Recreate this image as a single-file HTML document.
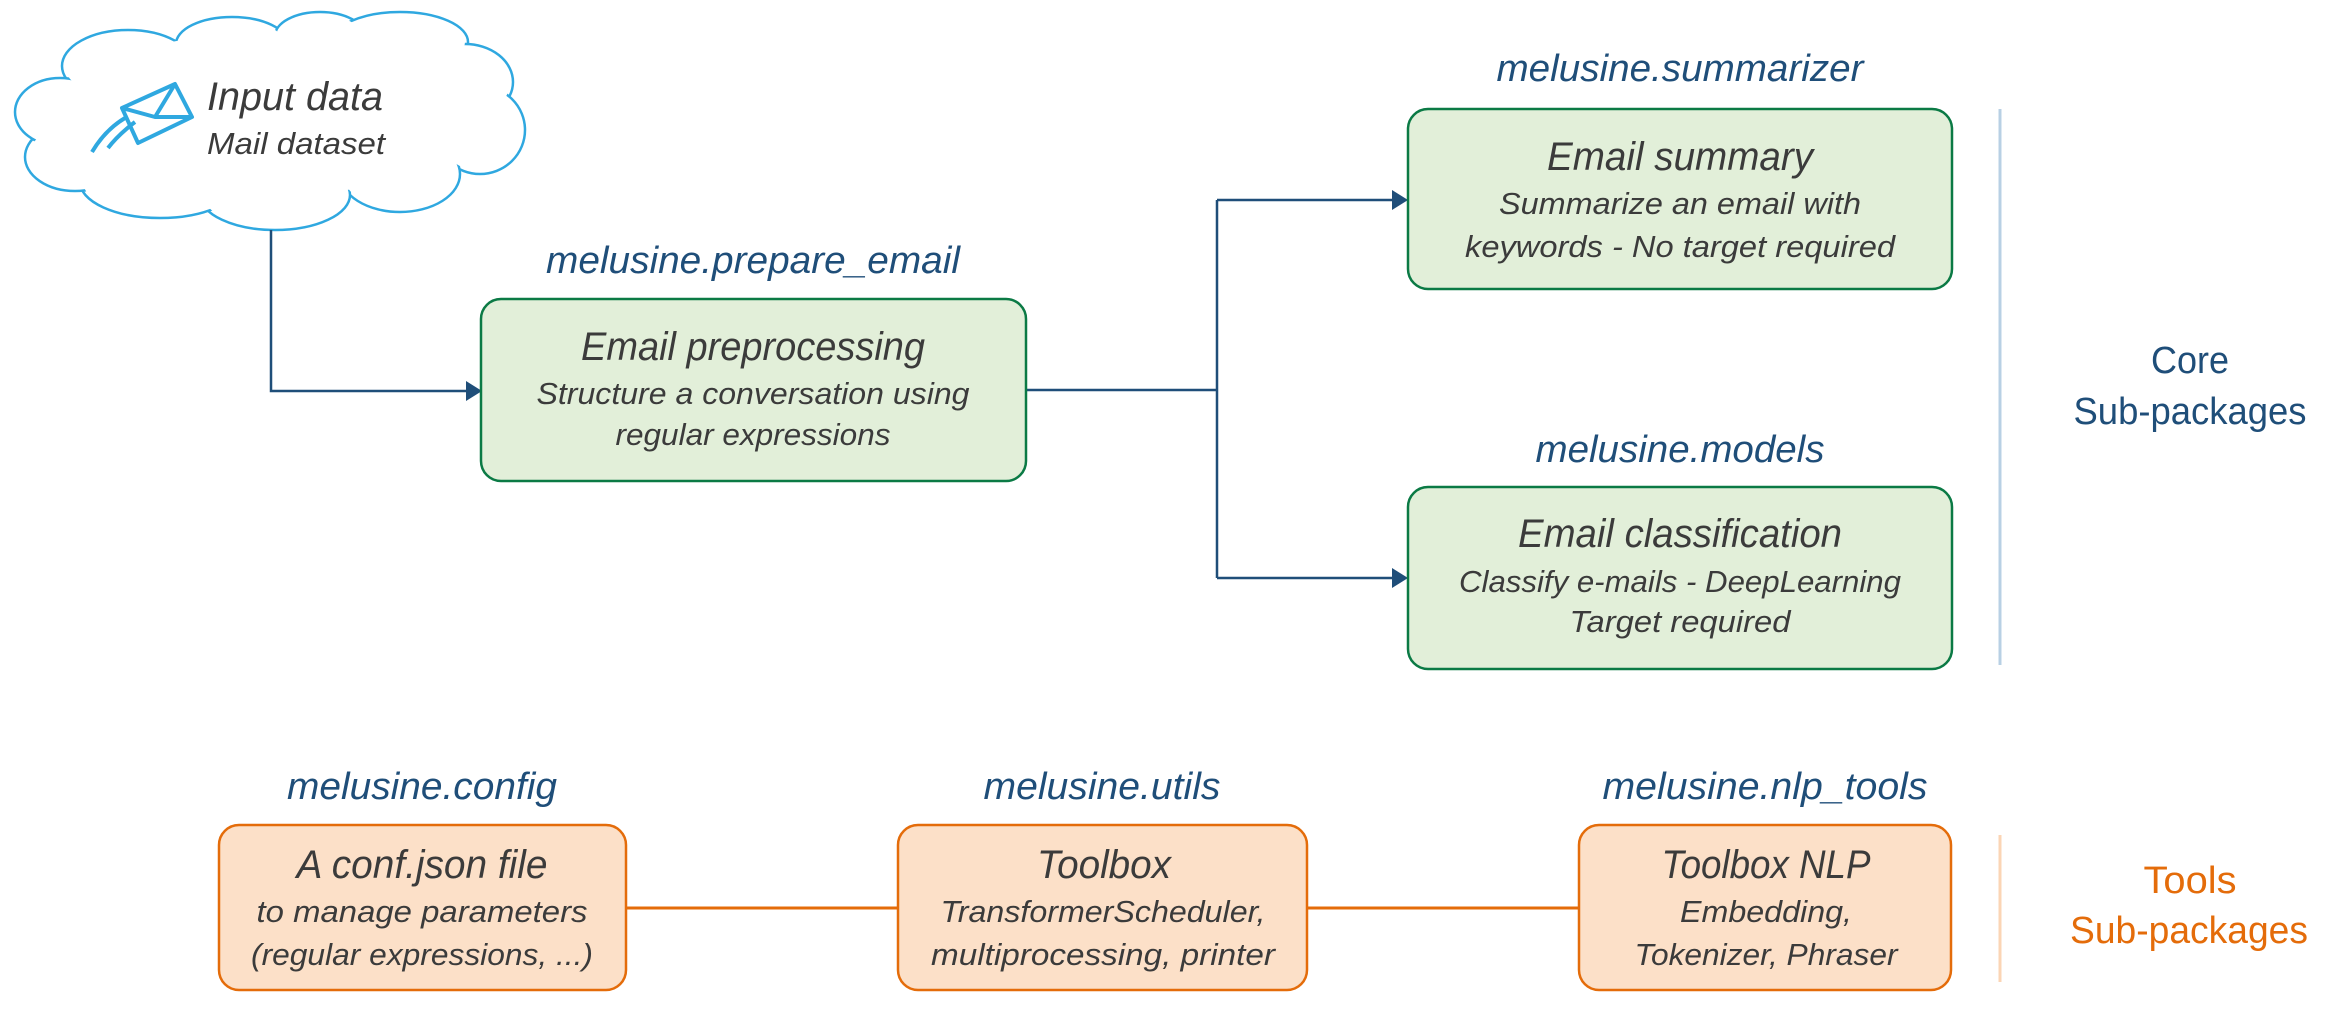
<!DOCTYPE html>
<html><head><meta charset="utf-8"><style>
html,body{margin:0;padding:0;background:#fff}
svg{display:block}
text{font-family:"Liberation Sans",sans-serif}
.lab{fill:#1f4e79;font-style:italic;font-size:38px}
.t{fill:#3b3b3b;font-style:italic;font-size:40px}
.s{fill:#3b3b3b;font-style:italic;font-size:31px}
</style></head><body>
<svg width="2348" height="1012" viewBox="0 0 2348 1012" xmlns="http://www.w3.org/2000/svg">
<!-- cloud -->
<g stroke="#2fa8e0" stroke-width="2.5" fill="#fff">
<ellipse cx="128" cy="66" rx="66" ry="36"/>
<ellipse cx="232" cy="44" rx="56" ry="27"/>
<ellipse cx="320" cy="36" rx="45" ry="24"/>
<ellipse cx="400" cy="42" rx="68" ry="30"/>
<ellipse cx="465" cy="82" rx="48" ry="38"/>
<ellipse cx="480" cy="130" rx="45" ry="44"/>
<ellipse cx="400" cy="174" rx="60" ry="38"/>
<ellipse cx="275" cy="195" rx="75" ry="35"/>
<ellipse cx="160" cy="182" rx="80" ry="36"/>
<ellipse cx="75" cy="157" rx="50" ry="34"/>
<ellipse cx="60" cy="112" rx="45" ry="34"/>
</g>
<g fill="#fff">
<ellipse cx="128" cy="66" rx="63" ry="33"/>
<ellipse cx="232" cy="44" rx="53" ry="24"/>
<ellipse cx="320" cy="36" rx="42" ry="21"/>
<ellipse cx="400" cy="42" rx="65" ry="27"/>
<ellipse cx="465" cy="82" rx="45" ry="35"/>
<ellipse cx="480" cy="130" rx="42" ry="41"/>
<ellipse cx="400" cy="174" rx="57" ry="35"/>
<ellipse cx="275" cy="195" rx="72" ry="32"/>
<ellipse cx="160" cy="182" rx="77" ry="33"/>
<ellipse cx="75" cy="157" rx="47" ry="31"/>
<ellipse cx="60" cy="112" rx="42" ry="31"/>
<ellipse cx="270" cy="114" rx="205" ry="82"/>
</g>
<!-- envelope -->
<g stroke="#2fa8e0" stroke-width="4" fill="none" stroke-linejoin="round">
<path d="M122 108 L175 84 L192 117 L138 143 Z"/>
<path d="M122 108 L155 117 L175 84"/>
<path d="M155 117 L192 117"/>
<path d="M125 118 Q105 130 92 152 M135 122 Q118 135 108 148"/>
</g>
<text x="207" y="110" class="t" font-size="42" textLength="176" lengthAdjust="spacingAndGlyphs">Input data</text>
<text x="207" y="154" class="s" font-size="34" textLength="178" lengthAdjust="spacingAndGlyphs">Mail dataset</text>

<!-- connectors -->
<g stroke="#1f4e79" stroke-width="2.5" fill="none">
<path d="M271 230 V391 H470"/>
<path d="M1026 390 H1217 M1217 200 V578 M1217 200 H1396 M1217 578 H1396"/>
</g>
<g fill="#1f4e79">
<path d="M466 381 L482 391 L466 401 Z"/>
<path d="M1392 190 L1408 200 L1392 210 Z"/>
<path d="M1392 568 L1408 578 L1392 588 Z"/>
</g>

<!-- green boxes -->
<g fill="#e2efd9" stroke="#0b7a45" stroke-width="2.5">
<rect x="481" y="299" width="545" height="182" rx="20"/>
<rect x="1408" y="109" width="544" height="180" rx="20"/>
<rect x="1408" y="487" width="544" height="182" rx="20"/>
</g>
<g text-anchor="middle">
<text x="753" y="273" class="lab" textLength="414" lengthAdjust="spacingAndGlyphs">melusine.prepare_email</text>
<text x="753" y="360" class="t" textLength="344" lengthAdjust="spacingAndGlyphs">Email preprocessing</text>
<text x="753" y="404" class="s" textLength="433" lengthAdjust="spacingAndGlyphs">Structure a conversation using</text>
<text x="753" y="445" class="s" textLength="275" lengthAdjust="spacingAndGlyphs">regular expressions</text>

<text x="1680" y="81" class="lab" textLength="367" lengthAdjust="spacingAndGlyphs">melusine.summarizer</text>
<text x="1680" y="170" class="t" textLength="266" lengthAdjust="spacingAndGlyphs">Email summary</text>
<text x="1680" y="214" class="s" textLength="362" lengthAdjust="spacingAndGlyphs">Summarize an email with</text>
<text x="1680" y="257" class="s" textLength="430" lengthAdjust="spacingAndGlyphs">keywords - No target required</text>

<text x="1680" y="462" class="lab" textLength="289" lengthAdjust="spacingAndGlyphs">melusine.models</text>
<text x="1680" y="547" class="t" textLength="324" lengthAdjust="spacingAndGlyphs">Email classification</text>
<text x="1680" y="592" class="s" textLength="442" lengthAdjust="spacingAndGlyphs">Classify e-mails - DeepLearning</text>
<text x="1680" y="632" class="s" textLength="221" lengthAdjust="spacingAndGlyphs">Target required</text>
</g>

<line x1="2000" y1="109" x2="2000" y2="665" stroke="#b8d0e4" stroke-width="3"/>
<g text-anchor="middle" fill="#1f4e79" font-size="38">
<text x="2190" y="373" textLength="78" lengthAdjust="spacingAndGlyphs">Core</text>
<text x="2190" y="424" textLength="233" lengthAdjust="spacingAndGlyphs">Sub-packages</text>
</g>

<!-- bottom -->
<g stroke="#e46c0a" stroke-width="3">
<line x1="626" y1="908" x2="898" y2="908"/>
<line x1="1307" y1="908" x2="1579" y2="908"/>
</g>
<g fill="#fce0c8" stroke="#e46c0a" stroke-width="2.5">
<rect x="219" y="825" width="407" height="165" rx="20"/>
<rect x="898" y="825" width="409" height="165" rx="20"/>
<rect x="1579" y="825" width="372" height="165" rx="20"/>
</g>
<g text-anchor="middle">
<text x="422" y="799" class="lab" textLength="270" lengthAdjust="spacingAndGlyphs">melusine.config</text>
<text x="422" y="878" class="t" textLength="251" lengthAdjust="spacingAndGlyphs">A conf.json file</text>
<text x="422" y="922" class="s" textLength="331" lengthAdjust="spacingAndGlyphs">to manage parameters</text>
<text x="422" y="965" class="s" textLength="342" lengthAdjust="spacingAndGlyphs">(regular expressions, ...)</text>

<text x="1102" y="799" class="lab" textLength="237" lengthAdjust="spacingAndGlyphs">melusine.utils</text>
<text x="1104" y="878" class="t" textLength="134" lengthAdjust="spacingAndGlyphs">Toolbox</text>
<text x="1103" y="922" class="s" textLength="325" lengthAdjust="spacingAndGlyphs">TransformerScheduler,</text>
<text x="1103" y="965" class="s" textLength="344" lengthAdjust="spacingAndGlyphs">multiprocessing, printer</text>

<text x="1765" y="799" class="lab" textLength="325" lengthAdjust="spacingAndGlyphs">melusine.nlp_tools</text>
<text x="1766" y="878" class="t" textLength="209" lengthAdjust="spacingAndGlyphs">Toolbox NLP</text>
<text x="1766" y="922" class="s" textLength="172" lengthAdjust="spacingAndGlyphs">Embedding,</text>
<text x="1766" y="965" class="s" textLength="263" lengthAdjust="spacingAndGlyphs">Tokenizer, Phraser</text>
</g>
<line x1="2000" y1="835" x2="2000" y2="982" stroke="#fbd5b5" stroke-width="3"/>
<g text-anchor="middle" fill="#e46c0a" font-size="38">
<text x="2190" y="893" textLength="93" lengthAdjust="spacingAndGlyphs">Tools</text>
<text x="2189" y="943" textLength="238" lengthAdjust="spacingAndGlyphs">Sub-packages</text>
</g>
</svg>
</body></html>
